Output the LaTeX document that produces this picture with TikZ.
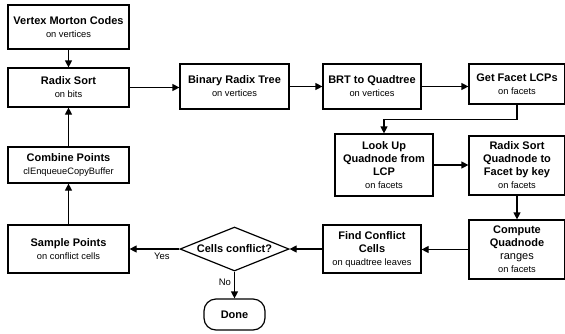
\documentclass[tikz,border=0pt]{standalone}
\usepackage{fontspec}
\setmainfont{Liberation Sans}
\usetikzlibrary{arrows.meta,shapes.geometric,calc}
\newcommand\subt[1]{{\fontsize{9.3}{10}\selectfont\mdseries #1}}
\tikzset{
  box/.style={draw, line width=1.2pt, rectangle, align=center, inner sep=1pt,
    font=\fontsize{11}{13}\selectfont\bfseries},
  arr/.style={line width=1.2pt, -{Triangle[length=7pt,width=7pt]}},
  lbl/.style={font=\fontsize{9.5}{10}\selectfont, inner sep=1pt}
}
\begin{document}
\begin{tikzpicture}[x=1pt,y=-1pt]
\clip (0,0) rectangle (565,333);
\node[box, minimum width=121pt, minimum height=44pt] (vmc) at (68.5,27) {Vertex Morton Codes\\\subt{on vertices}};
\node[box, minimum width=121pt, minimum height=39pt] (rs) at (68.5,87.5) {Radix Sort\\\subt{on bits}};
\node[box, minimum width=109pt, minimum height=45pt] (brt) at (234.5,86.5) {Binary Radix Tree\\\subt{on vertices}};
\node[box, minimum width=98pt, minimum height=45pt] (b2q) at (372,86.5) {BRT to Quadtree\\\subt{on vertices}};
\node[box, minimum width=96pt, minimum height=40pt] (gfl) at (517,84) {Get Facet LCPs\\\subt{on facets}};
\node[box, minimum width=98pt, minimum height=62pt] (luq) at (384,165) {Look Up\\Quadnode from\\LCP\\\subt{on facets}};
\node[box, minimum width=96pt, minimum height=59pt] (rsq) at (517,165.5) {Radix Sort\\Quadnode to\\Facet by key\\\subt{on facets}};
\node[box, minimum width=96pt, minimum height=59pt] (cq) at (517,249.5) {Compute\\Quadnode\\{\mdseries ranges}\\\subt{on facets}};
\node[box, minimum width=98pt, minimum height=48pt] (fcc) at (372,249) {Find Conflict\\Cells\\\subt{on quadtree leaves}};
\node[draw, line width=1.2pt, diamond, aspect=2.5, inner sep=0pt, minimum width=109pt, minimum height=44pt,
  font=\fontsize{11}{13}\selectfont\bfseries] (dia) at (234.5,249) {Cells conflict?};
\node[draw, line width=1.2pt, rectangle, rounded corners=12pt, minimum width=61pt, minimum height=31pt,
  font=\fontsize{11}{13}\selectfont\bfseries] (done) at (234.5,314.5) {Done};
\node[box, minimum width=121pt, minimum height=48pt] (sp) at (68.5,249) {Sample Points\\\subt{on conflict cells}};
\node[box, minimum width=121pt, minimum height=36pt] (cp) at (68.5,165) {Combine Points\\\subt{clEnqueueCopyBuffer}};

\draw[arr] (vmc.south) -- (rs.north);
\draw[arr] (rs.east) -- (rs.east -| brt.west);
\draw[arr] (brt.east) -- (brt.east -| b2q.west);
\draw[arr] (b2q.east) -- (b2q.east -| gfl.west);
\draw[arr] (gfl.south) -- ++(0,15) -| (luq.north);
\draw[arr] (luq.east) -- (luq.east -| rsq.west);
\draw[arr] (rsq.south) -- (cq.north);
\draw[arr] (cq.west) -- (cq.west -| fcc.east);
\draw[arr] (fcc.west) -- (dia.east);
\draw[arr] (dia.west) -- node[lbl, below=2pt, pos=0.35] {Yes} (sp.east);
\draw[arr] (dia.south) -- node[lbl, left=2pt, pos=0.4] {No} (done.north);
\draw[arr] (sp.north) -- (cp.south);
\draw[arr] (cp.north) -- (rs.south);
\end{tikzpicture}
\end{document}
